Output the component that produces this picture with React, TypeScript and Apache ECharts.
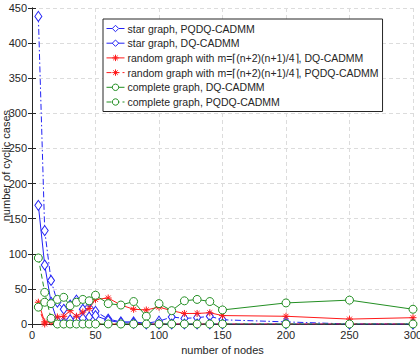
import React, { useEffect, useRef } from "react";
import * as echarts from "echarts";

// Number of nodes at which each configuration was evaluated
const nodeCounts = [5, 10, 15, 20, 25, 30, 35, 40, 45, 50, 60, 70, 80, 90, 100, 110, 120, 130, 140, 150, 200, 250, 300];

// Number of cyclic cases per configuration
const starPQDQ = [438, 133, 62, 31, 21, 27, 34, 21, 31, 18, 7, 3, 3, 1, 4, 10, 8, 9, 11, 6, 3, 0, 0];
const starDQ = [169, 84, 31, 4, 2, 6, 7, 8, 10, 12, 5, 2, 1, 0, 0, 0, 0, 0, 0, 0, 0, 0, 0];
const randomDQ = [31, 3, 3, 10, 11, 19, 11, 17, 22, 35, 37, 27, 21, 20, 24, 19, 15, 15, 16, 12, 11, 7, 9];
const randomPQDQ = [25, 0, 5, 0, 0, 0, 0, 0, 0, 0, 0, 0, 0, 0, 0, 0, 0, 0, 0, 0, 0, 0, 0];
const completeDQ = [24, 31, 29, 35, 38, 26, 31, 35, 33, 41, 29, 27, 32, 11, 29, 19, 33, 35, 32, 20, 30, 34, 21];
const completePQDQ = [94, 45, 8, 0, 0, 0, 0, 0, 0, 0, 0, 0, 0, 0, 0, 0, 0, 0, 0, 0, 0, 0, 0];

const seriesNames = [
  "star graph, PQDQ-CADMM",
  "star graph, DQ-CADMM",
  "random graph with m=⌈(n+2)(n+1)/4⌉, DQ-CADMM",
  "random graph with m=⌈(n+2)(n+1)/4⌉, PQDQ-CADMM",
  "complete graph, DQ-CADMM",
  "complete graph, PQDQ-CADMM",
];

const xTitle = "number of nodes";
const yTitle = "number of cyclic cases";

const xTicks = { min: 0, max: 300, interval: 50 };
const yTicks = { min: 0, max: 450, interval: 50 };

const BLUE = "#2222f5";
const RED = "#ff1a1a";
const GREEN = "#238f23";
const ASTERISK = "path://M0,5L10,5M5,0L5,10M1.5,1.5L8.5,8.5M1.5,8.5L8.5,1.5";
const FONT = "Liberation Sans, Arial, sans-serif";
const TEXT = "#262626";
const DASH_DOT = [6, 2.5, 1.5, 2.5];
const DASHED = [5, 3];

function pairs(values: number[]) {
  return nodeCounts.map((n, i) => [n, values[i]]);
}

function lineSeries(
  name: string,
  values: number[],
  color: string,
  lineType: any,
  symbol: string,
  symbolSize: any,
  filled: boolean
) {
  return {
    type: "line",
    name,
    data: pairs(values),
    symbol,
    symbolSize,
    showAllSymbol: true,
    lineStyle: { color, width: 1, type: lineType },
    itemStyle: {
      color: filled ? color : "#ffffff",
      borderColor: color,
      borderWidth: 1,
    },
    emphasis: { disabled: true },
    z: 3,
  };
}

export default function App() {
  const ref = useRef<HTMLDivElement>(null);

  useEffect(() => {
    if (!ref.current) return;
    const chart = echarts.init(ref.current, undefined, { renderer: "svg" });

    const axisCommon = {
      axisLine: { show: true, lineStyle: { color: TEXT, width: 1 } },
      axisTick: { show: true, inside: true, length: 4, lineStyle: { color: TEXT } },
    };
    const gridLines = {
      show: true,
      lineStyle: { color: "#dcdcdc", type: [4, 3], width: 1 },
    };

    chart.setOption({
      animation: false,
      backgroundColor: "#ffffff",
      textStyle: { fontFamily: FONT },
      grid: {
        left: 32,
        right: 7,
        top: 8,
        bottom: 32,
        containLabel: false,
        outerBoundsMode: "none",
      },
      // vertical title of the value axis, placed by its bounding box
      graphic: [
        {
          type: "text",
          left: 0,
          top: 110,
          rotation: Math.PI / 2,
          bounding: "all",
          silent: true,
          style: {
            text: yTitle,
            fontSize: 11,
            fontFamily: FONT,
            fill: TEXT,
          },
        },
      ],
      legend: {
        orient: "vertical",
        left: 103,
        top: 19,
        padding: [3, 4, 3, 3],
        itemGap: 1.7,
        itemWidth: 18,
        itemHeight: 8,
        backgroundColor: "#ffffff",
        borderColor: TEXT,
        borderWidth: 1,
        borderRadius: 0,
        lineStyle: { width: 1 },
        itemStyle: { borderWidth: 1 },
        textStyle: {
          fontSize: 10.5,
          lineHeight: 13,
          color: TEXT,
          fontFamily: FONT,
          padding: [0, 0, 0, -2],
        },
        data: seriesNames,
      },
      xAxis: [
        {
          type: "value",
          ...xTicks,
          name: xTitle,
          nameLocation: "middle",
          nameGap: 20,
          nameMoveOverlap: false,
          nameTextStyle: { fontSize: 11, color: TEXT, fontFamily: FONT },
          axisLabel: { fontSize: 11, color: TEXT, margin: 5, fontFamily: FONT },
          splitLine: gridLines,
          ...axisCommon,
        },
        {
          type: "value",
          ...xTicks,
          position: "top",
          axisLabel: { show: false },
          splitLine: { show: false },
          ...axisCommon,
        },
      ],
      yAxis: [
        {
          type: "value",
          ...yTicks,
          axisLabel: { fontSize: 11, color: TEXT, margin: 5, fontFamily: FONT },
          splitLine: gridLines,
          ...axisCommon,
        },
        {
          type: "value",
          ...yTicks,
          position: "right",
          axisLabel: { show: false },
          splitLine: { show: false },
          ...axisCommon,
        },
      ],
      series: [
        lineSeries(seriesNames[0], starPQDQ, BLUE, DASH_DOT, "diamond", [7, 10], false),
        lineSeries(seriesNames[1], starDQ, BLUE, "solid", "diamond", [7, 10], false),
        lineSeries(seriesNames[2], randomDQ, RED, "solid", ASTERISK, 7, true),
        lineSeries(seriesNames[3], randomPQDQ, RED, DASHED, ASTERISK, 7, true),
        lineSeries(seriesNames[4], completeDQ, GREEN, "solid", "circle", 8, false),
        lineSeries(seriesNames[5], completePQDQ, GREEN, DASHED, "circle", 8, false),
      ],
    });

    return () => chart.dispose();
  }, []);

  return (
    <div
      ref={ref}
      style={{ position: "fixed", left: 0, top: 0, width: 420, height: 356 }}
    />
  );
}
